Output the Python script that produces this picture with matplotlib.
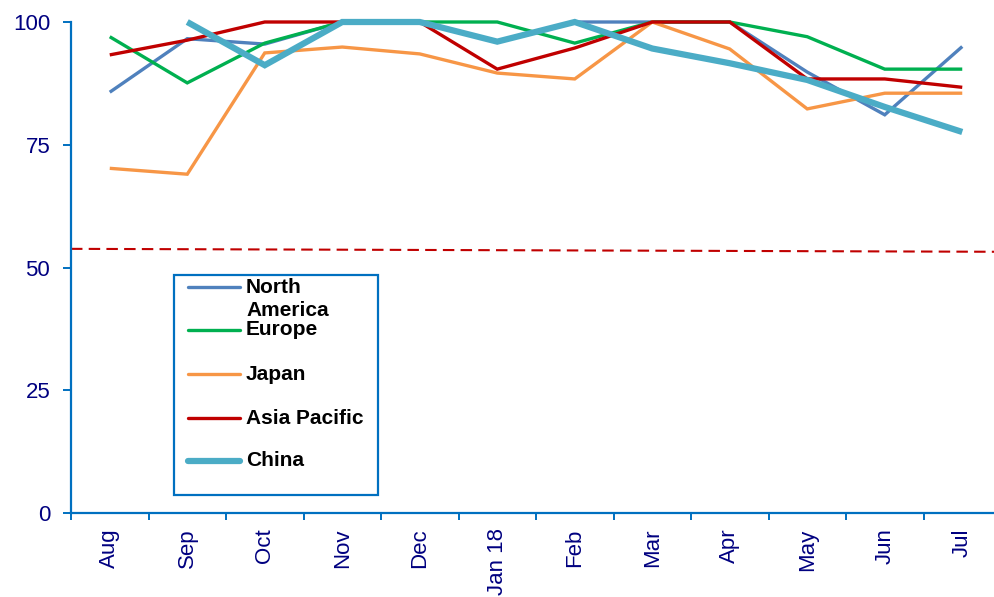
import numpy as np
import matplotlib
matplotlib.use("Agg")
import matplotlib.pyplot as plt
from matplotlib.lines import Line2D
from matplotlib.patches import Rectangle

plt.rcParams["font.family"] = ["Liberation Sans", "DejaVu Sans"]

months = ["Aug", "Sep", "Oct", "Nov", "Dec", "Jan 18", "Feb", "Mar", "Apr",
          "May", "Jun", "Jul"]

north_america = [85.7, 96.6, 95.5, 100, 100, 96.0, 100, 100, 100, 89.8, 81.1, 95.0]
europe = [97.0, 87.6, 95.7, 100, 100, 100, 95.7, 100, 100, 97.0, 90.4, 90.4]
japan = [70.2, 69.0, 93.7, 94.9, 93.5, 89.6, 88.4, 100, 94.5, 82.3, 85.5, 85.5]
asia_pacific = [93.3, 96.3, 100, 100, 100, 90.4, 94.7, 100, 100, 88.4, 88.4, 86.7]
china = [np.nan, 100, 91.2, 100, 100, 96.0, 100, 94.6, 91.6, 88.2, 82.7, 77.6]

threshold = [53.8, 53.2]  # dashed reference line, left end / right end

series = [
    ("North\nAmerica", north_america, "#4F81BD", 2.4),
    ("Europe", europe, "#00B050", 2.4),
    ("Japan", japan, "#F79646", 2.4),
    ("Asia Pacific", asia_pacific, "#C00000", 2.4),
    ("China", china, "#4BACC6", 4.5),
]

W, H = 994, 597
fig = plt.figure(figsize=(W / 100, H / 100), dpi=100)
ax = fig.add_axes([71 / W, (H - 513) / H, (1001 - 71) / W, (513 - 22) / H])

x = np.arange(len(months))
for name, vals, color, lw in series:
    ax.plot(x, vals, color=color, lw=lw, solid_joinstyle="miter",
            solid_capstyle="butt", clip_on=False, zorder=3)

ax.plot([0, 1], threshold, transform=ax.get_yaxis_transform(),
        color="#C00000", lw=1.5, dashes=(5.5, 3), zorder=2)

ax.set_xlim(-0.5, len(months) - 0.5)
ax.set_ylim(0, 100)

axis_blue = "#0070C0"
label_navy = "#000080"
for s in ["top", "right"]:
    ax.spines[s].set_visible(False)
for s in ["left", "bottom"]:
    ax.spines[s].set_color(axis_blue)
    ax.spines[s].set_linewidth(1.6)

ax.set_yticks([0, 25, 50, 75, 100])
ax.tick_params(axis="y", colors=axis_blue, labelcolor=label_navy,
               labelsize=16, length=6, width=1.4, pad=9)
ax.set_xticks(x)
ax.set_xticklabels(months, rotation=90)
ax.set_xticks(x - 0.5, minor=True)
ax.tick_params(axis="x", which="major", length=0, labelcolor=label_navy,
               labelsize=16, pad=11)
ax.tick_params(axis="x", which="minor", colors=axis_blue, length=5, width=1.4)


# legend drawn by hand so the wrapped label sits like the original
def fx(px):
    return px / W


def fy(py):
    return 1 - py / H


fig.patches.append(Rectangle((fx(174), fy(495)), fx(378) - fx(174),
                             fy(275) - fy(495), transform=fig.transFigure,
                             fill=False, edgecolor=axis_blue, lw=1.6))
rows = [287, 330, 374, 418, 461]
for (name, vals, color, lw), yy in zip(series, rows):
    fig.lines.append(Line2D([fx(188), fx(240)], [fy(yy), fy(yy)],
                            transform=fig.transFigure, color=color,
                            lw=lw, solid_capstyle="round"))
    if "\n" in name:
        fig.text(fx(246), fy(yy - 9), name, ha="left", va="top",
                 fontsize=15, fontweight="bold", color="black",
                 linespacing=1.3)
    else:
        fig.text(fx(246), fy(yy), name, ha="left", va="center",
                 fontsize=15, fontweight="bold", color="black")

fig.savefig("out.png", dpi=100)
